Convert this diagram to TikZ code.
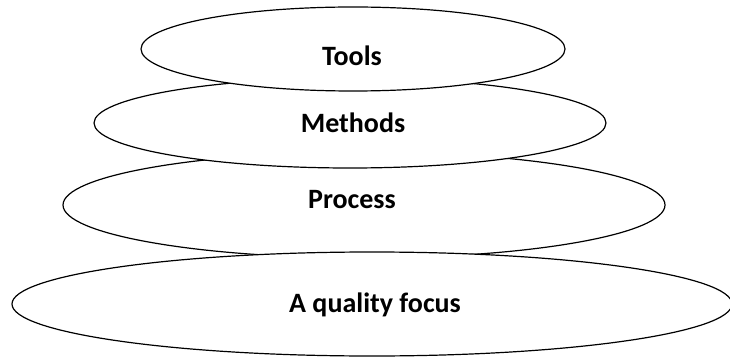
\documentclass[tikz,border=0pt]{standalone}
\usepackage{fontspec}
\setmainfont{Carlito}
\usetikzlibrary{shapes.geometric}
\tikzset{
  layer/.style={ellipse, draw=black, fill=white, line width=1.2pt, inner sep=0pt},
  tag/.style={anchor=base, inner sep=0pt, font=\fontsize{28}{32}\selectfont\bfseries}
}
\begin{document}
\begin{tikzpicture}[x=1pt, y=-1pt]
    \useasboundingbox[fill=white] (0,0) rectangle (730,358);
    % lowest first, so the upper rings hide the rims beneath
    \node[layer, minimum width=602pt, minimum height=106pt] (process) at (364,205) {};
    \node[layer, minimum width=720pt, minimum height=104pt] (quality) at (372,304) {};
    \node[layer, minimum width=512pt, minimum height=90pt] (methods) at (350,123) {};
    \node[layer, minimum width=424pt, minimum height=84pt] (tools) at (353,49) {};
    % labels
    \node[tag] (tools-text) at (352,66) {Tools};
    \node[tag] (methods-text) at (353,133) {Methods};
    \node[tag] (process-text) at (352,208) {Process};
    \node[tag] (quality-text) at (375,312) {A quality focus};
\end{tikzpicture}
\end{document}
